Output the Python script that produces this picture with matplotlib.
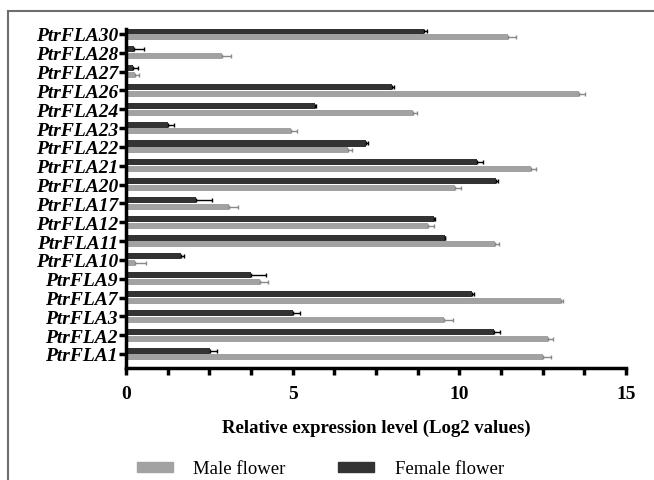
import matplotlib.pyplot as plt
import numpy as np
from matplotlib.ticker import MultipleLocator
from matplotlib.lines import Line2D

genes = ['PtrFLA30', 'PtrFLA28', 'PtrFLA27', 'PtrFLA26', 'PtrFLA24', 'PtrFLA23',
         'PtrFLA22', 'PtrFLA21', 'PtrFLA20', 'PtrFLA17', 'PtrFLA12', 'PtrFLA11',
         'PtrFLA10', 'PtrFLA9', 'PtrFLA7', 'PtrFLA3', 'PtrFLA2', 'PtrFLA1']
female = [8.94, 0.22, 0.20, 7.98, 5.67, 1.25, 7.21, 10.54, 11.09, 2.10, 9.23, 9.56,
          1.65, 3.74, 10.38, 5.02, 11.03, 2.53]
female_err = [0.10, 0.30, 0.15, 0.05, 0.03, 0.19, 0.06, 0.16, 0.06, 0.47, 0.05, 0.02,
              0.08, 0.45, 0.06, 0.20, 0.19, 0.21]
male = [11.45, 2.89, 0.27, 13.58, 8.61, 4.94, 6.67, 12.14, 9.86, 3.10, 9.06, 11.06,
        0.27, 4.02, 13.05, 9.55, 12.66, 12.51]
male_err = [0.24, 0.27, 0.12, 0.20, 0.13, 0.20, 0.10, 0.16, 0.20, 0.26, 0.17, 0.14,
            0.32, 0.23, 0.05, 0.27, 0.15, 0.25]

male_col = '#a2a2a2'
female_col = '#333333'

plt.rcParams['font.family'] = ['Liberation Serif', 'DejaVu Serif']

fig = plt.figure(figsize=(6.54, 4.81), dpi=100)
ax = fig.add_axes([0.193, 0.233, 0.764, 0.705])

y = np.arange(len(genes))[::-1]
h = 0.32
ax.barh(y + 0.18, female, height=h, color=female_col,
        xerr=[np.zeros(len(female)), female_err], ecolor='black',
        error_kw=dict(elinewidth=1, capsize=1.5, capthick=1))
ax.barh(y - 0.18, male, height=h, color=male_col,
        xerr=[np.zeros(len(male)), male_err], ecolor='#888888',
        error_kw=dict(elinewidth=1, capsize=1.5, capthick=1))

ax.set_xlim(0, 15)
ax.set_ylim(-0.74, 17.27)
ax.set_yticks(y)
ax.set_yticklabels(genes, fontsize=14, fontweight='bold', fontstyle='italic')
ax.xaxis.set_major_locator(MultipleLocator(5))
ax.xaxis.set_minor_locator(MultipleLocator(1.25))
for lab in ax.get_xticklabels():
    lab.set_fontweight('bold')
    lab.set_fontsize(14)
ax.tick_params(axis='both', which='both', width=2.5, length=5, direction='out')
ax.tick_params(axis='x', pad=7)
ax.tick_params(axis='y', pad=1)

for s in ['top', 'right']:
    ax.spines[s].set_visible(False)
for s in ['left', 'bottom']:
    ax.spines[s].set_linewidth(2.5)

ax.set_xlabel('Relative expression level (Log2 values)', fontsize=13.5,
              fontweight='bold', labelpad=12)

handles = [plt.Rectangle((0, 0), 1, 1, color=male_col),
           plt.Rectangle((0, 0), 1, 1, color=female_col)]
fig.legend(handles, ['Male flower', 'Female flower'], loc='center',
           bbox_to_anchor=(0.49, 1 - 470 / 481), ncol=2, frameon=False,
           fontsize=13.5, handlelength=1.9, handleheight=0.45, handletextpad=1.1,
           columnspacing=2.8)

# grey frame lines at top and left of the picture
fig.add_artist(Line2D([0.012, 1.0], [0.975, 0.975], color='#6e6e6e', lw=1.5))
fig.add_artist(Line2D([0.012, 0.012], [0.0, 0.975], color='#6e6e6e', lw=1.5))

fig.savefig('out.png', dpi=100)
